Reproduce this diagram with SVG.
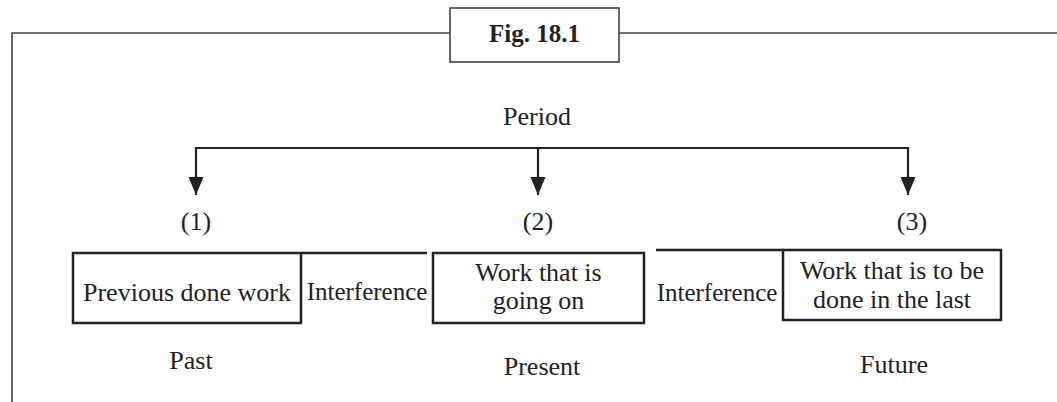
<svg xmlns="http://www.w3.org/2000/svg" width="1057" height="402" viewBox="0 0 1057 402">
<style>
text{font-family:"Liberation Serif","Times New Roman",serif;fill:#222;font-size:26px;text-anchor:middle}
.box{fill:none;stroke:#222;stroke-width:2.5}
.frame{fill:none;stroke:#444;stroke-width:1.6}
.conn{fill:none;stroke:#222;stroke-width:2.2}
.lbl{font-size:25px}
</style>
<defs>
<marker id="ah" markerWidth="18" markerHeight="16" refX="18" refY="7.5" orient="auto" markerUnits="userSpaceOnUse" viewBox="0 0 18 15">
<path d="M0,0 L18,7.5 L0,15 Z" fill="#222"/>
</marker>
</defs>
<rect width="1057" height="402" fill="#fff"/>
<g id="frame">
<path class="frame" d="M12,402 V33 H450 M619,33 H1057"/>
<rect x="450" y="8" width="169" height="54" fill="#fff" stroke="#444" stroke-width="1.6"/>
<text x="534.5" y="42" style="font-weight:bold;font-size:25px">Fig. 18.1</text>
</g>
<g id="period"><text x="537" y="125">Period</text></g>
<g id="connectors">
<path class="conn" d="M195,148 H909"/>
<path class="conn" d="M196,147 V195" marker-end="url(#ah)"/>
<path class="conn" d="M538,148 V195" marker-end="url(#ah)"/>
<path class="conn" d="M908,147 V195" marker-end="url(#ah)"/>
</g>
<g id="n1">
<text x="196" y="230">(1)</text>
<rect class="box" x="73" y="253" width="228" height="70"/>
<text x="187" y="301">Previous done work</text>
<text x="191" y="369">Past</text>
</g>
<g id="i1">
<path class="box" d="M301,253 H427"/>
<text class="lbl" x="367" y="300">Interference</text>
</g>
<g id="n2">
<text x="538" y="230">(2)</text>
<rect class="box" x="433" y="253" width="211" height="70"/>
<text x="538.5" y="281">Work that is</text>
<text x="538.5" y="309">going on</text>
<text x="542" y="375">Present</text>
</g>
<g id="i2">
<path class="box" d="M656,250 H784"/>
<text class="lbl" x="717" y="301">Interference</text>
</g>
<g id="n3">
<text x="912" y="230">(3)</text>
<rect class="box" x="783" y="250" width="218" height="70"/>
<text x="892" y="279">Work that is to be</text>
<text x="892" y="308">done in the last</text>
<text x="894" y="373">Future</text>
</g>
</svg>
